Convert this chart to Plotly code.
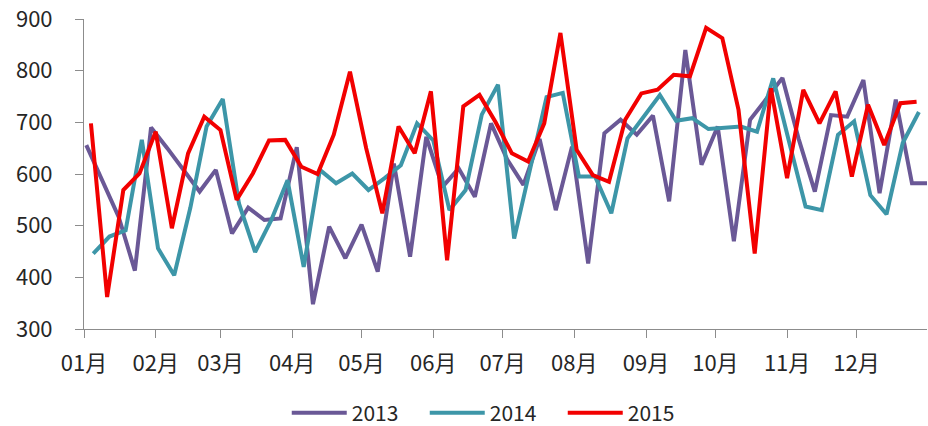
import pandas as pd
import plotly.graph_objects as go

# weekly sales (same calendar axis for all three years)
sales_2013 = [656, 585, 517, 413, 690, 650, 608, 566, 608, 485,
              535, 511, 514, 652, 348, 498, 437, 502, 411, 620,
              440, 672, 575, 611, 556, 698, 628, 579, 668, 530,
              653, 427, 679, 705, 676, 713, 547, 840, 618, 692,
              470, 705, 745, 786, 668, 566, 714, 711, 782, 563,
              744, 582, 582]
sales_2014 = [446, 479, 491, 666, 456, 404, 535, 692, 745, 543,
              449, 511, 588, 420, 608, 582, 601, 569, 592, 617,
              698, 665, 530, 569, 715, 773, 475, 610, 749, 757,
              595, 595, 524, 669, 710, 753, 703, 708, 687, 689,
              692, 682, 785, 660, 537, 530, 676, 702, 559, 522,
              660, 720]
sales_2015 = [698, 362, 569, 601, 682, 495, 640, 711, 685, 550,
              601, 665, 666, 614, 600, 676, 798, 650, 524, 692,
              640, 760, 433, 731, 753, 700, 640, 624, 698, 873,
              647, 598, 585, 705, 756, 763, 792, 789, 883, 863,
              724, 446, 766, 592, 763, 698, 760, 595, 734, 656,
              737, 740]

weeks_2013 = pd.date_range("2015-01-02", periods=len(sales_2013), freq="7D")
weeks_2014 = pd.date_range("2015-01-05", periods=len(sales_2014), freq="7D")
weeks_2015 = pd.date_range("2015-01-04", periods=len(sales_2015), freq="7D")

series = [
    ("2013", weeks_2013, sales_2013, "#6A5896"),
    ("2014", weeks_2014, sales_2014, "#3D96A8"),
    ("2015", weeks_2015, sales_2015, "#F20000"),
]

font_family = "Noto Sans CJK SC, Noto Sans, sans-serif"

fig = go.Figure()
for name, x, y, color in series:
    fig.add_trace(
        go.Scatter(x=x, y=y, name=name, mode="lines",
                   line=dict(color=color, width=4))
    )

axis_line = dict(showline=True, linecolor="#8C8C8C", linewidth=1,
                 ticks="outside", tickcolor="#8C8C8C", ticklen=8,
                 showgrid=False, zeroline=False, automargin=False,
                 ticklabeloverflow="allow")

fig.update_layout(
    width=928,
    height=426,
    margin=dict(l=84, r=1, t=19, b=97),
    plot_bgcolor="white",
    paper_bgcolor="white",
    font=dict(family=font_family, size=22, color="#262626"),
    xaxis=dict(
        type="date",
        range=["2015-01-01", "2015-12-31 12:00"],
        tick0="2015-01-01",
        dtick="M1",
        tickformat="%m月",
        ticklabelstandoff=7,
        **axis_line,
    ),
    yaxis=dict(
        range=[300, 900],
        dtick=100,
        ticklabelstandoff=18,
        **axis_line,
    ),
    showlegend=True,
    legend=dict(
        orientation="h",
        xref="container",
        yref="container",
        x=0.309,
        xanchor="left",
        y=0.03,
        yanchor="middle",
        font=dict(size=21),
        itemwidth=55,
        entrywidth=68,
        entrywidthmode="pixels",
    ),
)

# drop the default 8px body margin so the 928x426 figure fills the window
fig.write_html(
    "out.html",
    config={"displayModeBar": False},
    post_script="document.body.style.margin = '0';",
)
